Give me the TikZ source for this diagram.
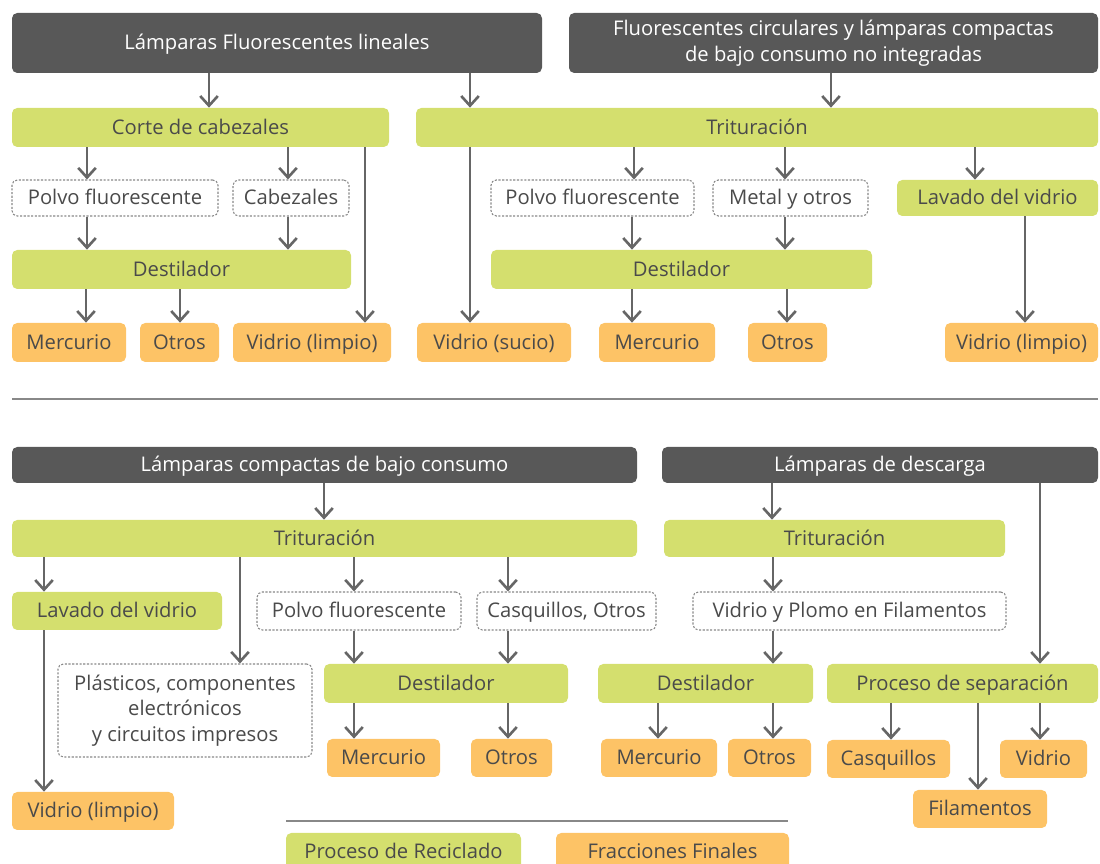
\documentclass[tikz,border=0pt]{standalone}
\usepackage{fontspec}
\setmainfont{Open Sans}
\usetikzlibrary{arrows.meta}
\definecolor{hdr}{HTML}{585858}
\definecolor{grn}{HTML}{D4DF6E}
\definecolor{org}{HTML}{FDC366}
\definecolor{txt}{HTML}{4A4A4A}
\definecolor{arr}{HTML}{666666}
\definecolor{brd}{HTML}{888888}
\newcommand\bx[7]{\node[#2, minimum width={(#5-#3)*0.02cm}, minimum height={(#6-#4)*0.02cm}] (#1) at ({(#3+#5)/2},{(#4+#6)/2}) {#7};}
\newcommand\cn[3]{\coordinate (tx) at (#3,0); \draw[conn] (#1.south -| tx) -- (#2.north -| tx);}
\begin{document}
\begin{tikzpicture}[x=0.02cm,y=-0.02cm,
 box/.style={rounded corners=3pt, inner sep=0pt, align=center, font=\fontsize{11.5}{14.5}\selectfont, text=txt, text height=1.75ex, text depth=0.35ex},
 multi/.style={text height=, text depth=},
 hdrbox/.style={box, fill=hdr, text=white},
 procbox/.style={box, fill=grn},
 fracbox/.style={box, fill=org},
 midbox/.style={box, draw=brd, dash pattern=on 1.2pt off 0.9pt, fill=white, line width=0.6pt},
 conn/.style={draw=arr, line width=1.4pt, -{Straight Barb[length=5.5pt,width=10pt,line width=1.5pt]}},
 sep/.style={draw=brd, line width=0.8pt}]
\clip (0,0) rectangle (1100,864);
% ---- top section
\bx{h1}{hdrbox}{12}{13}{542}{73}{Lámparas Fluorescentes lineales}
\bx{h2}{hdrbox,multi}{569}{13}{1098}{73}{Fluorescentes circulares y lámparas compactas\\de bajo consumo no integradas}
\bx{corte}{procbox}{12}{108}{389}{147}{Corte de cabezales}
\bx{trit1}{procbox}{416}{108}{1098}{147}{Trituración}
\bx{pf1}{midbox}{12}{180}{218}{216}{Polvo fluorescente}
\bx{cab}{midbox}{233}{180}{349}{216}{Cabezales}
\bx{pf2}{midbox}{491}{180}{694}{216}{Polvo fluorescente}
\bx{met}{midbox}{713}{180}{868}{216}{Metal y otros}
\bx{lav1}{procbox}{897}{180}{1098}{216}{Lavado del vidrio}
\bx{des1}{procbox}{12}{250}{351}{289}{Destilador}
\bx{des2}{procbox}{491}{250}{872}{289}{Destilador}
\bx{me1}{fracbox}{12}{323}{126}{362}{Mercurio}
\bx{ot1}{fracbox}{140}{323}{219}{362}{Otros}
\bx{vl1}{fracbox}{233}{323}{391}{362}{Vidrio (limpio)}
\bx{vs}{fracbox}{417}{323}{571}{362}{Vidrio (sucio)}
\bx{me2}{fracbox}{599}{323}{715}{362}{Mercurio}
\bx{ot2}{fracbox}{748}{323}{827}{362}{Otros}
\bx{vl2}{fracbox}{945}{323}{1098}{362}{Vidrio (limpio)}
\cn{h1}{corte}{209}
\cn{h1}{trit1}{470}
\cn{h2}{trit1}{831}
\cn{corte}{pf1}{87}
\cn{corte}{cab}{288}
\cn{corte}{vl1}{365}
\cn{trit1}{vs}{470}
\cn{trit1}{pf2}{634}
\cn{trit1}{met}{785}
\cn{trit1}{lav1}{975}
\cn{pf1}{des1}{87}
\cn{cab}{des1}{288}
\cn{pf2}{des2}{632}
\cn{met}{des2}{785}
\cn{des1}{me1}{86}
\cn{des1}{ot1}{180}
\cn{des2}{me2}{632}
\cn{des2}{ot2}{787}
\cn{lav1}{vl2}{1025}
% separator
\coordinate (sepA) at (12,399);
\coordinate (sepB) at (1098,399);
\draw[sep] (sepA) -- (sepB);
% ---- bottom section
\bx{h3}{hdrbox}{12}{447}{637}{483}{Lámparas compactas de bajo consumo}
\bx{h4}{hdrbox}{662}{447}{1098}{483}{Lámparas de descarga}
\bx{trit3}{procbox}{12}{520}{637}{557}{Trituración}
\bx{trit4}{procbox}{664}{520}{1005}{557}{Trituración}
\bx{lav2}{procbox}{12}{592}{222}{630}{Lavado del vidrio}
\bx{pf3}{midbox}{257}{592}{461}{630}{Polvo fluorescente}
\bx{cas}{midbox}{477}{592}{656}{630}{Casquillos, Otros}
\bx{vyp}{midbox}{693}{592}{1006}{630}{Vidrio y Plomo en Filamentos}
\bx{pla}{midbox,multi}{58}{664}{312}{757}{Plásticos, componentes\\electrónicos\\y circuitos impresos}
\bx{des3}{procbox}{324}{664}{568}{703}{Destilador}
\bx{des4}{procbox}{598}{664}{813}{703}{Destilador}
\bx{proc}{procbox}{827}{664}{1098}{703}{Proceso de separación}
\bx{me3}{fracbox}{327}{739}{440}{777}{Mercurio}
\bx{ot3}{fracbox}{471}{739}{552}{777}{Otros}
\bx{me4}{fracbox}{601}{739}{717}{777}{Mercurio}
\bx{ot4}{fracbox}{728}{739}{811}{777}{Otros}
\bx{casq}{fracbox}{827}{740}{950}{778}{Casquillos}
\bx{vid}{fracbox}{1000}{740}{1087}{778}{Vidrio}
\bx{fil}{fracbox}{913}{790}{1047}{828}{Filamentos}
\bx{vl3}{fracbox}{12}{792}{174}{830}{Vidrio (limpio)}
\cn{h3}{trit3}{324}
\cn{h4}{trit4}{772}
\cn{h4}{proc}{1040}
\cn{trit3}{lav2}{44}
\cn{trit3}{pla}{240}
\cn{trit3}{pf3}{354}
\cn{trit3}{cas}{508}
\cn{trit4}{vyp}{773}
\cn{lav2}{vl3}{44}
\cn{pf3}{des3}{354}
\cn{cas}{des3}{508}
\cn{vyp}{des4}{773}
\cn{des3}{me3}{354}
\cn{des3}{ot3}{508}
\cn{des4}{me4}{658}
\cn{des4}{ot4}{773}
\cn{proc}{casq}{891}
\cn{proc}{fil}{978}
\cn{proc}{vid}{1040}
% legend
\coordinate (legA) at (286,821);
\coordinate (legB) at (788,821);
\draw[sep] (legA) -- (legB);
\bx{leg1}{procbox}{286}{833}{521}{871}{Proceso de Reciclado}
\bx{leg2}{fracbox}{556}{833}{789}{871}{Fracciones Finales}
\end{tikzpicture}
\end{document}
